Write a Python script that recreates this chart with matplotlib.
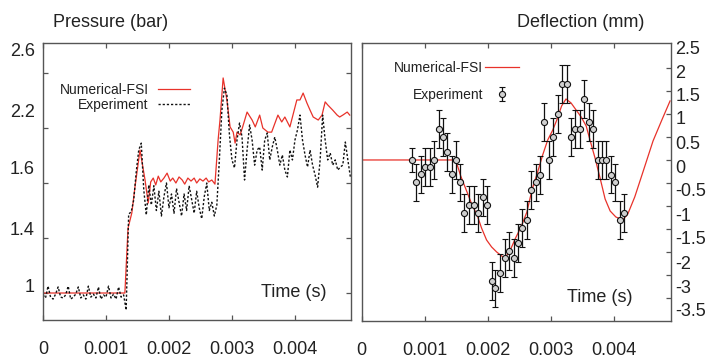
import matplotlib
matplotlib.use("Agg")
import matplotlib.pyplot as plt

plt.rcParams['font.family'] = ['Liberation Sans', 'DejaVu Sans']

# ---- left panel: pressure ----
num_p_t = [0.0, 0.00130, 0.00135, 0.00141, 0.00146, 0.00154, 0.00162, 0.00167, 0.00171,
           0.00175, 0.00179, 0.00183, 0.00187, 0.00192, 0.00197, 0.00202, 0.00206, 0.00211,
           0.00216, 0.00221, 0.00225, 0.00230, 0.00235, 0.00240, 0.00244, 0.00249, 0.00254,
           0.00259, 0.00263, 0.00268, 0.00273, 0.00278, 0.00281, 0.00286, 0.00292, 0.00297,
           0.00302, 0.00305, 0.00308, 0.00313, 0.00317, 0.00324, 0.00332, 0.00337, 0.00344,
           0.00349, 0.00357, 0.00363, 0.00373, 0.00379, 0.00384, 0.00392, 0.00403, 0.00408,
           0.00413, 0.00419, 0.00424, 0.00429, 0.00437, 0.00443, 0.00448, 0.00452, 0.00460,
           0.00467, 0.00471, 0.00476, 0.00483, 0.00487]
num_p = [1.0, 1.0, 1.236, 1.291, 1.385, 1.52, 1.411, 1.327, 1.404,
         1.418, 1.393, 1.425, 1.404, 1.418, 1.436, 1.407, 1.418, 1.40,
         1.422, 1.411, 1.396, 1.418, 1.407, 1.418, 1.40, 1.415, 1.407,
         1.418, 1.404, 1.411, 1.396, 1.556, 1.629, 1.782, 1.702, 1.604,
         1.585, 1.545, 1.585, 1.575, 1.604, 1.658, 1.629, 1.604, 1.647,
         1.60, 1.585, 1.585, 1.647, 1.622, 1.64, 1.604, 1.702, 1.702,
         1.727, 1.691, 1.665, 1.64, 1.629, 1.647, 1.695, 1.684, 1.665,
         1.647, 1.64, 1.647, 1.658, 1.647]

exp_p_t = [0.0, 0.00004, 0.00008, 0.00012, 0.00016, 0.00020, 0.00024, 0.00028, 0.00032,
           0.00036, 0.00040, 0.00044, 0.00048, 0.00052, 0.00056, 0.00060, 0.00064, 0.00068,
           0.00072, 0.00076, 0.00080, 0.00084, 0.00088, 0.00092, 0.00096, 0.00100, 0.00104,
           0.00108, 0.00112, 0.00116, 0.00120, 0.00124, 0.00128, 0.00132, 0.00136, 0.00140,
           0.00144, 0.00148, 0.00152, 0.00156, 0.00160, 0.00164, 0.00168, 0.00172, 0.00176,
           0.00180, 0.00184, 0.00188, 0.00192, 0.00196, 0.00200, 0.00204, 0.00208, 0.00212,
           0.00216, 0.00220, 0.00224, 0.00228, 0.00232, 0.00236, 0.00240, 0.00244, 0.00248,
           0.00252, 0.00256, 0.00260, 0.00264, 0.00268, 0.00272, 0.00276, 0.00280, 0.00284,
           0.00288, 0.00292, 0.00296, 0.00300, 0.00304, 0.00308, 0.00312, 0.00316, 0.00320,
           0.00324, 0.00328, 0.00332, 0.00336, 0.00340, 0.00344, 0.00348, 0.00352, 0.00356,
           0.00360, 0.00364, 0.00368, 0.00372, 0.00376, 0.00380, 0.00384, 0.00388, 0.00392,
           0.00396, 0.00400, 0.00404, 0.00408, 0.00412, 0.00416, 0.00420, 0.00424, 0.00428,
           0.00432, 0.00436, 0.00440, 0.00444, 0.00448, 0.00452, 0.00456, 0.00460, 0.00464,
           0.00468, 0.00472, 0.00476, 0.00480, 0.00484, 0.00488]
exp_p = [0.993, 0.982, 1.025, 0.985, 0.978, 0.996, 1.022, 0.985, 0.982,
         0.993, 1.025, 0.978, 0.985, 0.996, 1.022, 0.982, 0.993, 0.978,
         1.025, 0.985, 0.996, 0.982, 1.022, 0.978, 0.993, 0.985, 1.025,
         0.982, 0.996, 0.978, 1.022, 0.985, 0.993, 0.938, 1.287, 1.295,
         1.338, 1.44, 1.52, 1.545, 1.375, 1.284, 1.393, 1.32, 1.39,
         1.30, 1.37, 1.28, 1.35, 1.40, 1.31, 1.36, 1.29, 1.38,
         1.33, 1.28, 1.36, 1.30, 1.39, 1.34, 1.29, 1.37, 1.31,
         1.27, 1.35, 1.40, 1.30, 1.33, 1.28, 1.32, 1.484, 1.665,
         1.745, 1.72, 1.575, 1.484, 1.455, 1.556, 1.618, 1.567, 1.411,
         1.52, 1.611, 1.556, 1.465, 1.52, 1.531, 1.447, 1.556, 1.582,
         1.484, 1.531, 1.567, 1.52, 1.465, 1.502, 1.447, 1.422, 1.52,
         1.484, 1.556, 1.593, 1.647, 1.556, 1.502, 1.458, 1.52, 1.465,
         1.429, 1.385, 1.484, 1.647, 1.556, 1.484, 1.509, 1.465, 1.484,
         1.447, 1.458, 1.465, 1.549, 1.484, 1.422]

p_ticks = [1.0, 1.2, 1.4, 1.6, 1.8]
p_label_pos = [1.884, 1.665, 1.455, 1.236, 1.029]
p_labels = ['2.6', '2.2', '1.6', '1.4', '1']

# ---- right panel: deflection ----
num_d_t = [0.0, 0.00149, 0.00157, 0.00167, 0.00175, 0.00183, 0.00190, 0.00198, 0.00206,
           0.00214, 0.00222, 0.00227, 0.00235, 0.00244, 0.00252, 0.00262, 0.00270, 0.00279,
           0.00287, 0.00295, 0.00303, 0.00310, 0.00317, 0.00324, 0.00332, 0.00340, 0.00348,
           0.00356, 0.00362, 0.00370, 0.00378, 0.00386, 0.00394, 0.00403, 0.00414, 0.00422,
           0.00433, 0.00446, 0.00462, 0.00476, 0.00489]
num_d = [0.0, 0.0, -0.348, -0.696, -0.978, -1.196, -1.478, -1.739, -1.891,
         -2.0, -2.087, -2.13, -1.978, -1.696, -1.478, -1.13, -0.652, -0.261,
         0.109, 0.435, 0.652, 0.891, 1.174, 1.326, 1.239, 1.087, 0.935,
         0.739, 0.435, 0.043, -0.391, -0.848, -1.109, -1.239, -1.304, -1.174,
         -0.804, -0.261, 0.413, 0.870, 1.283]

exp_d_t = [0.00079, 0.00086, 0.00094, 0.00100, 0.00108, 0.00115, 0.00122, 0.00129, 0.00136,
           0.00143, 0.00150, 0.00156, 0.00163, 0.00170, 0.00178, 0.00185, 0.00192, 0.00198,
           0.00206, 0.00212, 0.00220, 0.00227, 0.00234, 0.00241, 0.00248, 0.00254, 0.00262,
           0.00269, 0.00276, 0.00283, 0.00289, 0.00297, 0.00304, 0.00311, 0.00318, 0.00325,
           0.00332, 0.00339, 0.00346, 0.00353, 0.00360, 0.00367, 0.00374, 0.00381, 0.00388,
           0.00395, 0.00402, 0.00409, 0.00416]
exp_d = [0.0, -0.489, -0.315, -0.152, -0.152, 0.0, 0.667, 0.504, 0.167,
         -0.315, 0.0, -0.489, -1.146, -0.983, -0.983, -1.146, -0.815, -0.983,
         -2.624, -2.793, -2.463, -2.137, -1.972, -2.137, -1.8, -1.472, -1.311,
         -0.652, -0.489, -0.32, 0.833, 0.0, 0.5, 0.993, 1.648, 1.648,
         0.5, 0.667, 0.667, 1.322, 0.833, 0.667, 0.0, 0.0, 0.0,
         -0.317, -0.487, -1.309, -1.146]
exp_d_err = [0.27] + [0.41] * 48

d_ticks = [-3.0, -2.5, -2.0, -1.5, -1.0, -0.5, 0.0, 0.5, 1.0, 1.5, 2.0]
d_label_pos = [2.435, 1.913, 1.413, 0.913, 0.370, -0.152, -0.652, -1.196, -1.696,
               -2.239, -2.761, -3.261]
d_labels = ['2.5', '2', '1.5', '1', '0.5', '0', '-0.5', '-1', '-1.5', '-2', '-3', '-3.5']

t_ticks = [0, 0.001, 0.002, 0.003, 0.004]
t_labels = ['0', '0.001', '0.002', '0.003', '0.004']

red = '#e8322a'
ink = '#222222'
edge = '#555555'

fig = plt.figure(figsize=(7.24, 3.58), dpi=100)
ax1 = fig.add_axes([0.0594, 0.1061, 0.4254, 0.7737])
ax2 = fig.add_axes([0.4996, 0.1034, 0.4272, 0.7765])


def style(ax):
    for s in ax.spines.values():
        s.set_color(edge)
        s.set_linewidth(1.0)
    ax.set_xticks(t_ticks)
    ax.set_xticklabels(t_labels)
    ax.tick_params(axis='x', which='major', direction='in', length=3.5, width=0.9,
                   top=True, pad=15, labelsize=13, colors=edge, labelcolor=ink)


style(ax1)
style(ax2)

# left
ax1.plot(num_p_t, num_p, color=red, lw=0.9, label='Numerical-FSI')
ax1.plot(exp_p_t, exp_p, color='#111111', lw=1.0, ls=(0, (1.6, 1.4)), label='Experiment')
ax1.set_xlim(0, 0.00489)
ax1.set_ylim(0.9018, 1.909)
ax1.set_yticks(p_ticks)
ax1.set_yticklabels([])
ax1.set_yticks(p_label_pos, minor=True)
ax1.set_yticklabels(p_labels, minor=True)
ax1.tick_params(axis='y', which='major', direction='in', length=3.5, width=0.9,
                left=True, right=True, colors=edge)
ax1.tick_params(axis='y', which='minor', length=0, pad=6, labelsize=13, labelcolor=ink)
ax1.text(0.922, 0.101, 'Time (s)', transform=ax1.transAxes, ha='right', va='center',
         fontsize=13, color=ink)
leg1 = ax1.legend(loc='center', bbox_to_anchor=(0.266, 0.803), markerfirst=False,
                  frameon=False, fontsize=10, handlelength=2.3, handletextpad=0.7,
                  labelspacing=0.1, borderpad=0)
for t in leg1.get_texts():
    t.set_color(ink)

# right
ax2.plot(num_d_t, num_d, color=red, lw=0.9, label='Numerical-FSI')
ax2.errorbar(exp_d_t, exp_d, yerr=exp_d_err, fmt='o', ms=4.4, mfc='#d0d0d0', mec='#111111',
             mew=0.8, ecolor='#111111', elinewidth=0.9, capsize=2.2, capthick=0.9,
             label='Experiment')
ax2.set_xlim(0, 0.004905)
ax2.set_ylim(-3.5, 2.543)
ax2.yaxis.tick_right()
ax2.set_yticks(d_ticks)
ax2.set_yticklabels([])
ax2.set_yticks(d_label_pos, minor=True)
ax2.set_yticklabels(d_labels, minor=True)
ax2.tick_params(axis='y', which='major', direction='in', length=3.5, width=0.9,
                left=False, right=True, colors=edge)
ax2.tick_params(axis='y', which='minor', length=0, pad=3, labelsize=13, labelcolor=ink,
                left=False, right=True, labelleft=False, labelright=True)
ax2.text(0.877, 0.083, 'Time (s)', transform=ax2.transAxes, ha='right', va='center',
         fontsize=13, color=ink)
leg2 = ax2.legend(loc='center', bbox_to_anchor=(0.307, 0.862), markerfirst=False,
                  frameon=False, fontsize=10, handlelength=2.5, handletextpad=0.1,
                  labelspacing=0.95, borderpad=0)
for t in leg2.get_texts():
    t.set_color(ink)

fig.text(0.0732, 0.9385, 'Pressure (bar)', ha='left', va='center', fontsize=13, color=ink)
fig.text(0.7137, 0.9358, 'Deflection (mm)', ha='left', va='center', fontsize=13, color=ink)

fig.savefig('out.png', dpi=100)
